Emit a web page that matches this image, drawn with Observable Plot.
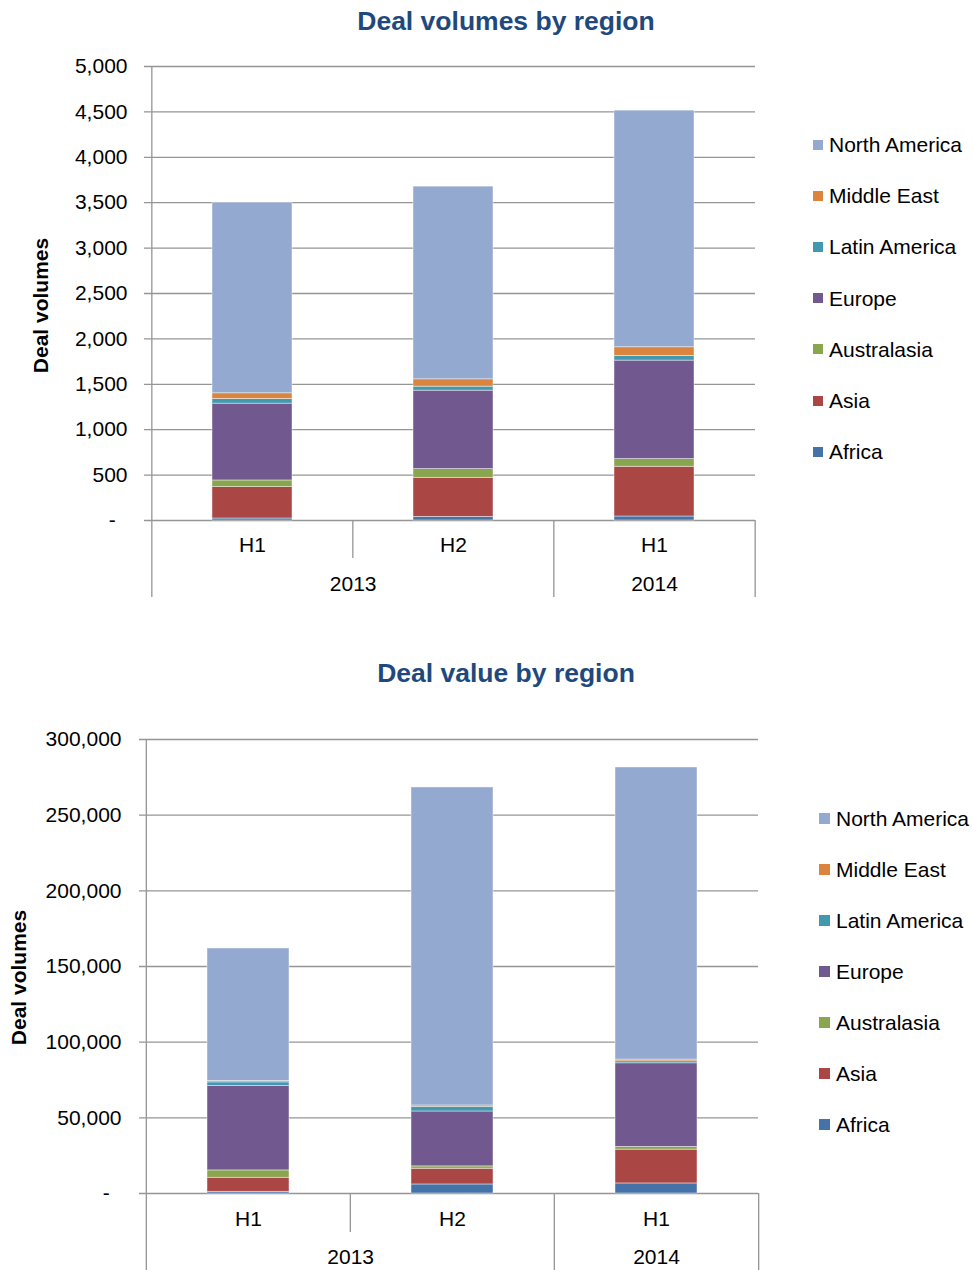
<!DOCTYPE html>
<html><head><meta charset="utf-8">
<script src="https://cdn.jsdelivr.net/npm/d3@7"></script>
<script src="https://cdn.jsdelivr.net/npm/@observablehq/plot@0.6"></script>
<style>
body{margin:0;background:#fff;font-family:"Liberation Sans",Arial,sans-serif;}
.chart{position:relative;width:973px;overflow:hidden;}
.title{position:absolute;left:206px;width:600px;text-align:center;font-weight:bold;font-size:26.5px;color:#1F497D;line-height:1;}
.legend .item{position:absolute;white-space:nowrap;display:flex;align-items:center;line-height:1;font-size:21px;color:#000;height:21px;}
.legend .sw{display:inline-block;margin-right:6px;}
.chart svg{display:block;}
</style></head><body>
<div id="c1" class="chart" style="height:640px"></div>
<div id="c2" class="chart" style="height:630px"></div>
<script>
// ---- data ----
const years  = ["2013", "2013", "2014"];
const halves = ["H1", "H2", "H1"];
const regions = ["Africa", "Asia", "Australasia", "Europe", "Latin America", "Middle East", "North America"];
const regionColors = ["#4572A7", "#AA4643", "#89A54E", "#71588F", "#4198AF", "#DB843D", "#93A9CF"];

// Deal volumes (count)
const africaVol       = [22, 40, 44];
const asiaVol         = [346, 430, 548];
const australasiaVol  = [73, 96, 84];
const europeVol       = [846, 864, 1085];
const latinAmericaVol = [51, 44, 51];
const middleEastVol   = [63, 81, 96];
const northAmericaVol = [2100, 2122, 2606];

// Deal value
const africaVal       = [1100, 5970, 6640];
const asiaVal         = [9300, 10400, 22340];
const australasiaVal  = [4860, 1550, 1770];
const europeVal       = [55740, 36270, 55300];
const latinAmericaVal = [2440, 3100, 1320];
const middleEastVal   = [880, 880, 1110];
const northAmericaVal = [87580, 210130, 193020];

const volTicks = [0, 500, 1000, 1500, 2000, 2500, 3000, 3500, 4000, 4500, 5000];
const valTicks = [0, 50000, 100000, 150000, 200000, 250000, 300000];

const titles = ["Deal volumes by region", "Deal value by region"];
const yLabel = "Deal volumes";

// ---- helpers ----
const cats = years.map((y, i) => y + " " + halves[i]);
const halfOf = Object.fromEntries(cats.map((c, i) => [c, halves[i]]));
const gridColor = "#959595";
const fmt = d => d === 0 ? "-\u00a0\u00a0" : d3.format(",")(d);

function build(el, cfg) {
  const {series, ticks, mL, mR, mT, mB, height, gridInset, yLabDx, yLabDy, hPad, yearDy, longDrop, shortDrop,
         titleTop, legendLeft, legendTop, legendStep, swatch} = cfg;
  const W = 973;
  const step = (W - mL - mR) / cats.length;
  const yMax = ticks[ticks.length - 1];
  const data = regions.flatMap((r, ri) => cats.map((c, ci) => ({cat: c, region: r, value: series[ri][ci]})));

  // year groups
  const yearGroups = [];
  cats.forEach((c, i) => {
    const last = yearGroups[yearGroups.length - 1];
    if (last && last.year === years[i]) last.n++;
    else yearGroups.push({year: years[i], cat: c, n: 1});
  });

  const ruleStyle = {stroke: gridColor, strokeWidth: 1.3};
  const marks = [
    Plot.ruleY(ticks, {...ruleStyle, insetLeft: -gridInset}),
    Plot.barY(data, {x: "cat", y: "value", fill: "region", stroke: "#fff", strokeOpacity: 0.55, strokeWidth: 0.8}),
    // value axis line
    Plot.ruleX([cats[0]], {...ruleStyle, dx: -step / 2, y1: yMax, y2: 0, insetBottom: -longDrop}),
    // category separators
    ...cats.map((c, i) => {
      if (i === 0) return null;
      const newYear = years[i] !== years[i - 1];
      return Plot.ruleX([c], {...ruleStyle, dx: -step / 2, y1: 0, y2: 0, insetBottom: -(newYear ? longDrop : shortDrop)});
    }).filter(Boolean),
    Plot.ruleX([cats[cats.length - 1]], {...ruleStyle, dx: step / 2, y1: 0, y2: 0, insetBottom: -longDrop}),
    Plot.axisY(ticks, {tickSize: 0, tickPadding: 24, tickFormat: fmt, label: null, fontSize: 21}),
    Plot.axisX({tickSize: 0, tickPadding: hPad, tickFormat: c => halfOf[c], label: null, fontSize: 21}),
    ...yearGroups.map(g => Plot.text([g], {x: "cat", text: "year", frameAnchor: "bottom", dy: yearDy, dx: (g.n - 1) * step / 2, fontSize: 21, fill: "#000"})),
    Plot.text([yLabel], {frameAnchor: "left", textAnchor: "middle", rotate: -90, dx: yLabDx, dy: yLabDy, fontWeight: "bold", fontSize: 21, fill: "#000"})
  ];

  const svg = Plot.plot({
    width: W, height, marginLeft: mL, marginRight: mR, marginTop: mT, marginBottom: mB,
    style: {fontFamily: "'Liberation Sans', Arial, sans-serif", fontSize: "21px", color: "#000", background: "transparent", overflow: "visible"},
    x: {domain: cats, paddingInner: 0.6, paddingOuter: 0.3},
    y: {domain: [0, yMax]},
    color: {domain: regions, range: regionColors},
    marks
  });
  el.appendChild(svg);

  const t = document.createElement("div");
  t.className = "title";
  t.style.top = titleTop + "px";
  t.textContent = cfg.title;
  el.appendChild(t);

  const lg = document.createElement("div");
  lg.className = "legend";
  regions.slice().reverse().forEach((r, i) => {
    const item = document.createElement("div");
    item.className = "item";
    item.style.left = legendLeft + "px";
    item.style.top = (legendTop + i * legendStep) + "px";
    const sw = document.createElement("span");
    sw.className = "sw";
    sw.style.width = swatch + "px";
    sw.style.height = swatch + "px";
    sw.style.background = regionColors[regions.indexOf(r)];
    item.appendChild(sw);
    item.appendChild(document.createTextNode(r));
    lg.appendChild(item);
  });
  el.appendChild(lg);
}

build(document.getElementById("c1"), {
  title: titles[0],
  series: [africaVol, asiaVol, australasiaVol, europeVol, latinAmericaVol, middleEastVol, northAmericaVol],
  ticks: volTicks, mL: 151, mR: 218, mT: 66, mB: 120, height: 640, gridInset: 7,
  yLabDx: -110, yLabDy: 12, hPad: 17, yearDy: 70, longDrop: 77, shortDrop: 38,
  titleTop: 8, legendLeft: 813, legendTop: 134, legendStep: 51.2, swatch: 10
});

build(document.getElementById("c2"), {
  title: titles[1],
  series: [africaVal, asiaVal, australasiaVal, europeVal, latinAmericaVal, middleEastVal, northAmericaVal],
  ticks: valTicks, mL: 145, mR: 215, mT: 99, mB: 77, height: 630, gridInset: 6,
  yLabDx: -126, yLabDy: 11, hPad: 18, yearDy: 70, longDrop: 77, shortDrop: 39,
  titleTop: 20, legendLeft: 819, legendTop: 168, legendStep: 51, swatch: 11
});
</script>
</body></html>
